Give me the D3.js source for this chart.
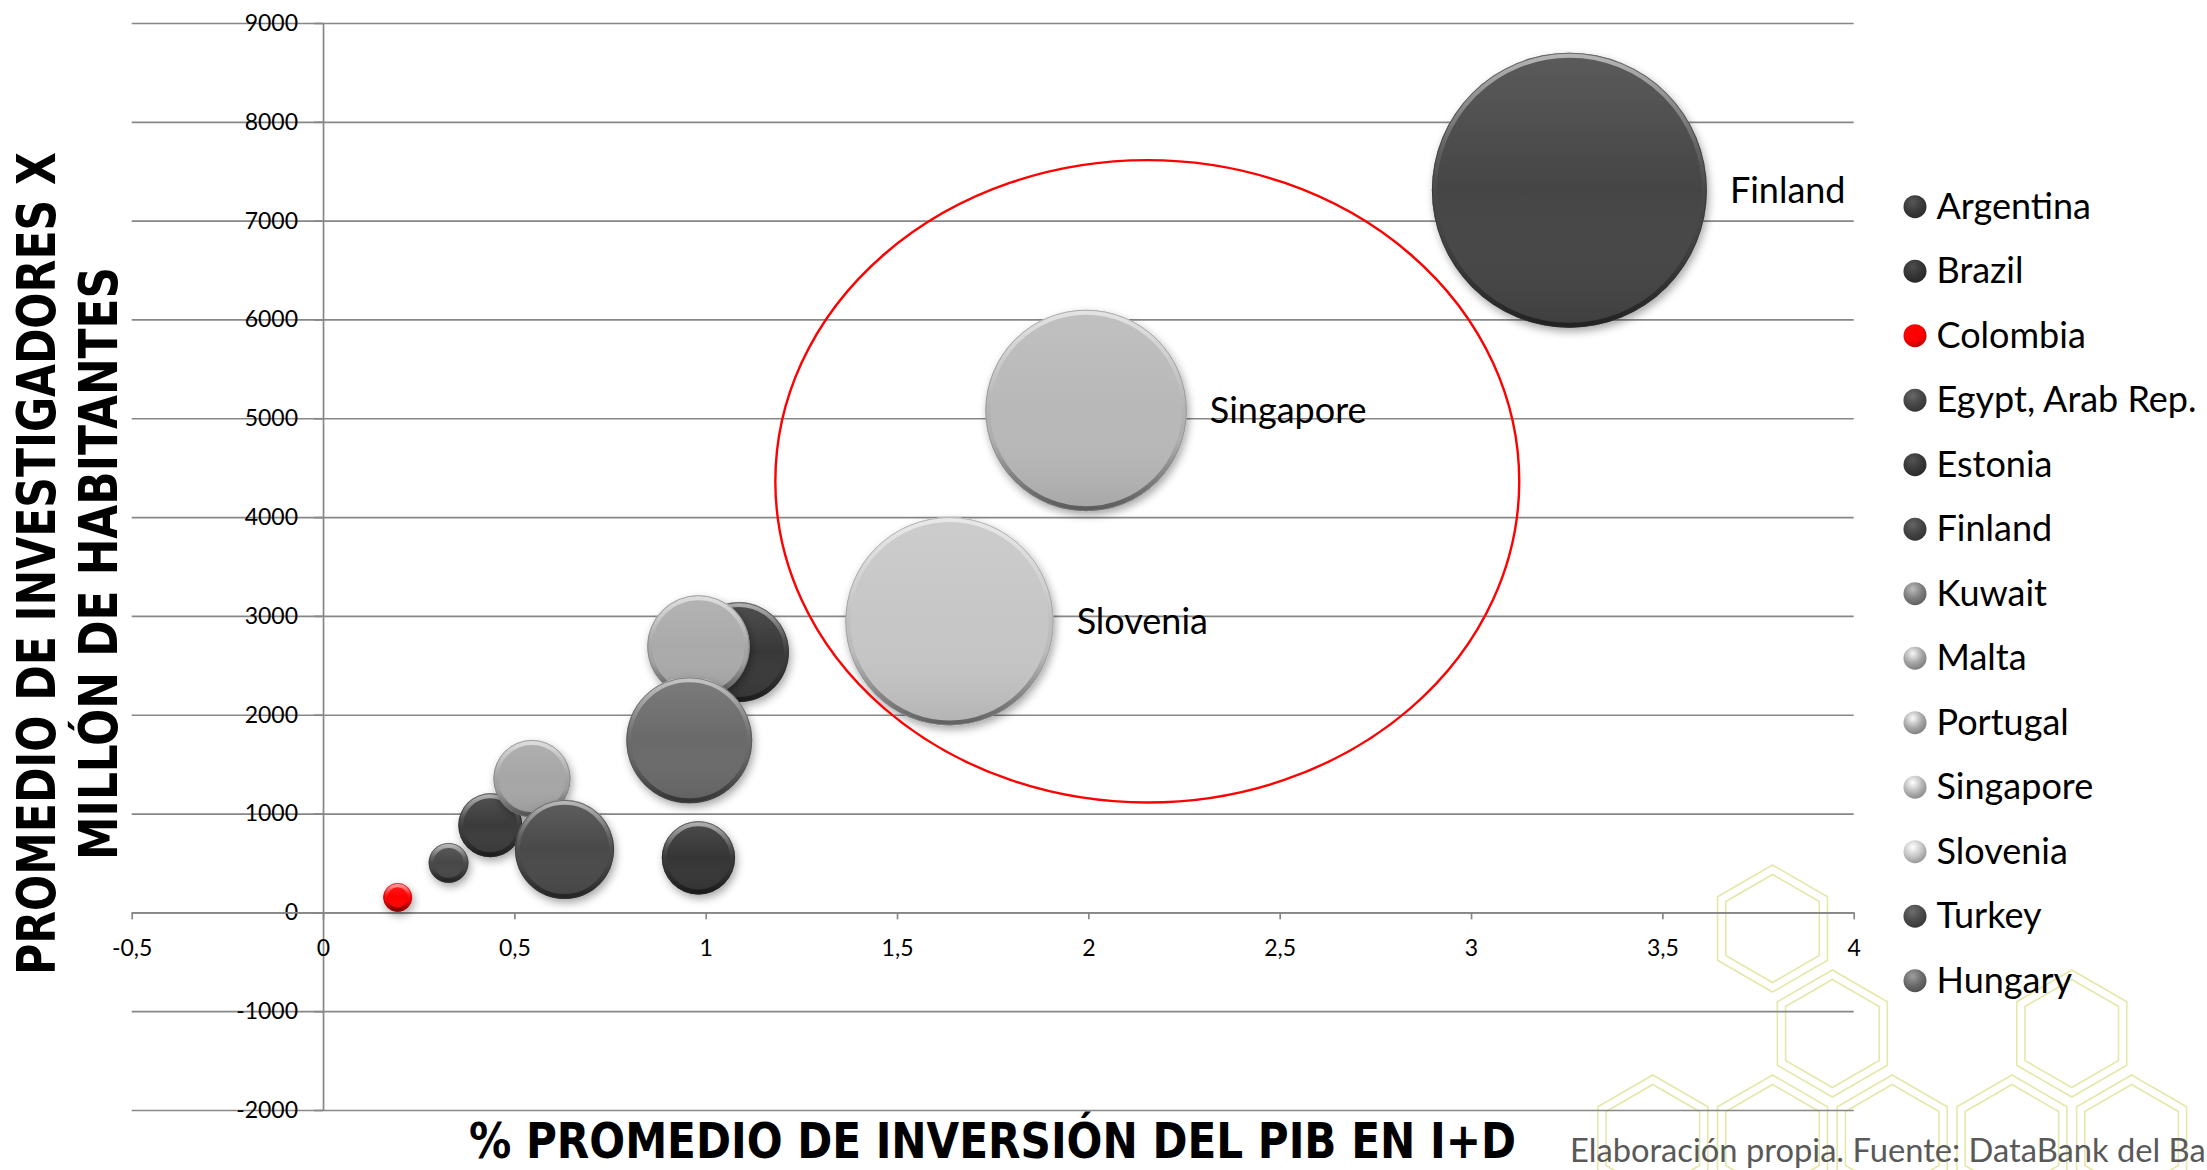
<!DOCTYPE html>
<html>
<head>
<meta charset="utf-8">
<script src="https://cdn.jsdelivr.net/npm/d3@7"></script>
<style>
html,body{margin:0;padding:0;background:#fff;}
svg{display:block;}
</style>
</head>
<body>
<script>
// ---------------- DATA ----------------
const countries = ["Argentina","Brazil","Colombia","Egypt, Arab Rep.","Estonia","Finland","Kuwait","Malta","Portugal","Singapore","Slovenia","Turkey","Hungary"];
const rdSpend = [0.437, 0.981, 0.195, 0.328, 1.087, 3.257, null, 0.546, 0.981, 1.994, 1.637, 0.631, 0.957];          // % of GDP in R&D
const researchers = [882, 552, 152, 501, 2634, 7308, null, 1354, 2691, 5079, 2946, 637, 1741];                        // researchers per million
const bubbleSize = [5.4, 7.1, 1.1, 2.1, 13.2, 100, null, 7.9, 13.9, 53.7, 57.4, 13.0, 21.0];                            // relative bubble size
const seriesColors = ["#3a3a3a","#353535","#ff0000","#464646","#393939","#444444","#7f7f7f","#a6a6a6","#aaaaaa","#b8b8b8","#c6c6c6","#4a4a4a","#6b6b6b"];
const labeledCountries = ["Finland","Singapore","Slovenia"];
const xTicks = [-0.5,0,0.5,1,1.5,2,2.5,3,3.5,4];
const yTicks = [-2000,-1000,0,1000,2000,3000,4000,5000,6000,7000,8000,9000];
const highlightEllipse = [2.154, 4362, 0.972, 3250]; // centre x, centre y, radius x, radius y (data units)
const yTitleLines = ["PROMEDIO DE INVESTIGADORES X","MILLÓN DE HABITANTES"];
const xTitle = "% PROMEDIO DE INVERSIÓN DEL PIB EN I+D";
const sourceText = "Elaboración propia. Fuente: DataBank del Banco Mundial";

// ---------------- SETUP ----------------
const W = 2207, H = 1170;
const svg = d3.select("body").append("svg").attr("width", W).attr("height", H);
svg.append("rect").attr("width", W).attr("height", H).attr("fill", "#fff");
const defs = svg.append("defs");

const x = d3.scaleLinear().domain([-0.5, 4]).range([131.7, 1853.7]);
const y = d3.scaleLinear().domain([-2000, 9000]).range([1110, 23]);
const r = d3.scaleSqrt().domain([0, 100]).range([0, 137.5]);
const loc = d3.formatLocale({decimal: ",", thousands: ".", grouping: [3], currency: ["", ""], minus: "-"});
const fmtX = loc.format("~g");
const fmtY = loc.format("d");

const labelFont = "Lato, 'Open Sans', sans-serif";
const titleFont = "'DejaVu Sans Condensed', 'DejaVu Sans', sans-serif";

// ---------------- BACKGROUND HEXAGONS (decoration) ----------------
const hexG = svg.append("g").attr("fill", "none").attr("stroke", "#e5e8a8").attr("stroke-width", 1.6);
const hexStepX = 119.7, hexStepY = 105;
const hexCells = [[0,0],[0.5,1],[2.5,1],[-1,2],[0,2],[1,2],[2,2],[3,2]];
function hexPath(cx, cy, R) {
  const pts = d3.range(6).map(i => {
    const a = Math.PI / 3 * i - Math.PI / 2;
    return [cx + R * Math.cos(a), cy + R * Math.sin(a)];
  });
  return "M" + pts.map(p => p.join(",")).join("L") + "Z";
}
hexCells.forEach(([c, rw]) => {
  const cx = 1772.5 + c * hexStepX, cy = 928.5 + rw * hexStepY;
  hexG.append("path").attr("d", hexPath(cx, cy, 63.5));
  hexG.append("path").attr("d", hexPath(cx, cy, 54));
});

// ---------------- GRID & AXES ----------------
const gridColor = "#878787";
const grid = svg.append("g")
  .attr("transform", `translate(${x(-0.5)},0)`)
  .call(d3.axisLeft(y).tickValues(yTicks).tickSizeInner(-(x(4) - x(-0.5))).tickSizeOuter(0).tickFormat(""));
grid.select(".domain").remove();
grid.selectAll("line").attr("stroke", gridColor).attr("stroke-width", 1.7);

const yAxis = svg.append("g")
  .attr("transform", `translate(${x(0)},0)`)
  .call(d3.axisLeft(y).tickValues(yTicks).tickSize(9).tickSizeOuter(0).tickPadding(16).tickFormat(fmtY));
yAxis.select(".domain").attr("stroke", gridColor).attr("stroke-width", 1.7);
yAxis.selectAll("line").attr("stroke", gridColor).attr("stroke-width", 1.7);
yAxis.selectAll("text").attr("font-family", labelFont).attr("font-size", 23).attr("fill", "#000");

const xAxis = svg.append("g")
  .attr("transform", `translate(0,${y(0)})`)
  .call(d3.axisBottom(x).tickValues(xTicks).tickSize(7).tickSizeOuter(0).tickPadding(20).tickFormat(fmtX));
xAxis.select(".domain").attr("stroke", gridColor).attr("stroke-width", 1.7);
xAxis.selectAll("line").attr("stroke", gridColor).attr("stroke-width", 1.7);
xAxis.selectAll("text").attr("font-family", labelFont).attr("font-size", 23).attr("fill", "#000");

// ---------------- GRADIENTS / FILTERS ----------------
const shadow = defs.append("filter").attr("id", "shadow").attr("x", "-30%").attr("y", "-30%").attr("width", "160%").attr("height", "170%");
shadow.append("feDropShadow").attr("dx", 2).attr("dy", 4).attr("stdDeviation", 4).attr("flood-color", "#000").attr("flood-opacity", 0.35);

const sheen = defs.append("linearGradient").attr("id", "sheen").attr("x1", 0).attr("y1", 0).attr("x2", 0).attr("y2", 1);
sheen.append("stop").attr("offset", "0%").attr("stop-color", "#fff").attr("stop-opacity", 0.12);
sheen.append("stop").attr("offset", "50%").attr("stop-color", "#fff").attr("stop-opacity", 0);
sheen.append("stop").attr("offset", "100%").attr("stop-color", "#000").attr("stop-opacity", 0.1);

const rim = defs.append("linearGradient").attr("id", "rim").attr("x1", 0).attr("y1", 0).attr("x2", 0).attr("y2", 1);
rim.append("stop").attr("offset", "0%").attr("stop-color", "#fff").attr("stop-opacity", 0.55);
rim.append("stop").attr("offset", "35%").attr("stop-color", "#fff").attr("stop-opacity", 0.12);
rim.append("stop").attr("offset", "65%").attr("stop-color", "#000").attr("stop-opacity", 0.05);
rim.append("stop").attr("offset", "100%").attr("stop-color", "#000").attr("stop-opacity", 0.45);

seriesColors.forEach((c, i) => {
  const g = defs.append("radialGradient").attr("id", "sph" + i).attr("cx", "40%").attr("cy", "30%").attr("r", "75%");
  g.append("stop").attr("offset", "0%").attr("stop-color", d3.color(c).brighter(1.1));
  g.append("stop").attr("offset", "55%").attr("stop-color", c);
  g.append("stop").attr("offset", "100%").attr("stop-color", d3.color(c).darker(0.9));
});

// ---------------- BUBBLES ----------------
const data = countries.map((name, i) => ({
  name, i, xv: rdSpend[i], yv: researchers[i], s: bubbleSize[i], color: seriesColors[i]
})).filter(d => d.xv != null && d.yv != null && d.s != null);

const bubbles = svg.append("g").selectAll("g").data(data).join("g")
  .attr("transform", d => `translate(${x(d.xv)},${y(d.yv)})`);
bubbles.each(function(d) {
  const g = d3.select(this);
  const rr = r(d.s);
  const sw = Math.min(5, rr * 0.3);
  g.append("circle").attr("r", rr).attr("fill", d.color).attr("filter", "url(#shadow)");
  g.append("circle").attr("r", rr).attr("fill", "url(#sheen)");
  g.append("circle").attr("r", rr - sw / 2).attr("fill", "none").attr("stroke", "url(#rim)").attr("stroke-width", sw);
  g.append("circle").attr("r", rr - 0.5).attr("fill", "none")
    .attr("stroke", d3.color(d.color).darker(0.9)).attr("stroke-opacity", 0.6).attr("stroke-width", 1);
});

// ---------------- DATA LABELS ----------------
svg.append("g").selectAll("text").data(data.filter(d => labeledCountries.includes(d.name))).join("text")
  .attr("x", d => x(d.xv) + r(d.s) + 23)
  .attr("y", d => y(d.yv) + 13)
  .attr("font-family", labelFont).attr("font-size", 36).attr("fill", "#000")
  .text(d => d.name);

// ---------------- HIGHLIGHT ELLIPSE ----------------
const [ecx, ecy, erx, ery] = highlightEllipse;
svg.append("ellipse")
  .attr("cx", x(ecx)).attr("cy", y(ecy))
  .attr("rx", x(ecx + erx) - x(ecx)).attr("ry", y(ecy - ery) - y(ecy))
  .attr("fill", "none").attr("stroke", "#ff0000").attr("stroke-width", 2.4);

// ---------------- LEGEND ----------------
const legend = svg.append("g").selectAll("g").data(countries).join("g")
  .attr("transform", (d, i) => `translate(1915,${206.7 + i * 64.5})`);
legend.append("circle").attr("r", 11.5).attr("fill", (d, i) => `url(#sph${i})`);
legend.append("text").attr("x", 21.5).attr("y", 12)
  .attr("font-family", labelFont).attr("font-size", 36).attr("fill", "#000")
  .text(d => d);

// ---------------- AXIS TITLES ----------------
const yTitleSpec = [{bx: 55, cy: 563.5, len: 823}, {bx: 117, cy: 563.5, len: 593}];
yTitleLines.forEach((t, k) => {
  svg.append("text")
    .attr("transform", `translate(${yTitleSpec[k].bx},${yTitleSpec[k].cy}) rotate(-90)`)
    .attr("text-anchor", "middle")
    .attr("font-family", titleFont).attr("font-weight", "bold").attr("font-size", 53).attr("fill", "#000")
    .attr("textLength", yTitleSpec[k].len).attr("lengthAdjust", "spacingAndGlyphs")
    .text(t);
});
svg.append("text")
  .attr("x", 469).attr("y", 1158)
  .attr("font-family", titleFont).attr("font-weight", "bold").attr("font-size", 49).attr("fill", "#000")
  .attr("textLength", 1047).attr("lengthAdjust", "spacingAndGlyphs")
  .text(xTitle);

// ---------------- SOURCE NOTE ----------------
const probe = svg.append("text").attr("font-family", labelFont).attr("font-size", 33)
  .text("Elaboración propia. Fuente: DataBank del B");
const natural = probe.node().getComputedTextLength();
probe.remove();
const sx = 620 / natural;
svg.append("text")
  .attr("transform", `translate(1570,1162) scale(${sx},1)`)
  .attr("font-family", labelFont).attr("font-size", 33).attr("fill", "#595959")
  .text(sourceText);
</script>
</body>
</html>
